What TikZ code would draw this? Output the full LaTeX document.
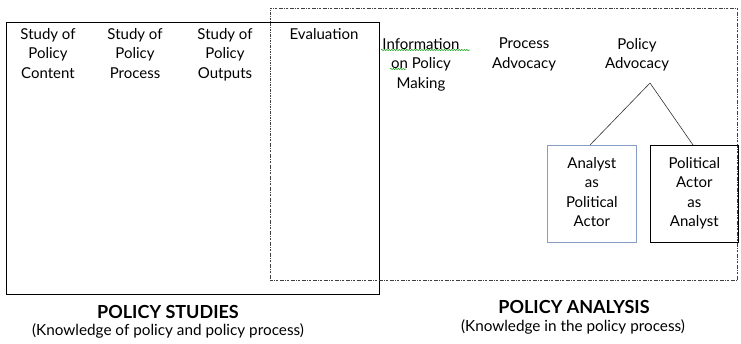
\documentclass[tikz,border=0pt]{standalone}
\usepackage{fontspec}
\setmainfont{Lato}
\usetikzlibrary{decorations.pathmorphing}
\definecolor{boxblue}{RGB}{135,158,196}
\begin{document}
\begin{tikzpicture}[x=1pt,y=-1pt,
  lbl/.style={align=center,font=\fontsize{15}{19.5}\selectfont,inner sep=0pt,anchor=north},
  head/.style={font=\fontsize{18}{21}\selectfont\bfseries,inner sep=0pt},
  sub/.style={font=\fontsize{15.3}{18}\selectfont,inner sep=0pt},
  dashbox/.style={draw=black!75,line width=0.6pt,dash pattern=on 2.5pt off 1.2pt on 0.6pt off 1.2pt},
  solidbox/.style={draw=black,line width=0.7pt},
  squig/.style={draw=green!60!black,line width=0.5pt,decorate,decoration={snake,amplitude=0.6pt,segment length=2.5pt}}]
\useasboundingbox (0,0) rectangle (741,343);
% boxes
\node[solidbox,minimum width=373pt,minimum height=272pt,inner sep=0pt,anchor=north west] (ps) at (6,22) {};
\node[dashbox,minimum width=467pt,minimum height=272pt,inner sep=0pt,anchor=north west] (pa) at (270,8) {};
% top labels
\node[lbl] (c1) at (48,28) {Study of\\Policy\\Content};
\node[lbl] (c2) at (135,28) {Study of\\Policy\\Process};
\node[lbl] (c3) at (225,28) {Study of\\Policy\\Outputs};
\node[lbl] (c4) at (324,28) {Evaluation};
\node[lbl] (c5) at (421,38) {Information\\on Policy\\Making};
\node[lbl] (c6) at (524,38) {Process\\Advocacy};
\node[lbl] (c7) at (637,38) {Policy\\Advocacy};
% spell-check marks
\coordinate (s1a) at (381,50); \coordinate (s1b) at (470,50);
\coordinate (s2a) at (390,69); \coordinate (s2b) at (406,69);
\draw[squig] (s1a) -- (s1b);
\draw[squig] (s2a) -- (s2b);
% sub boxes
\node[draw=boxblue,line width=0.7pt,minimum width=89pt,minimum height=97pt,inner sep=0pt,anchor=north west] (an) at (547,145) {};
\node[lbl] at ([yshift=-12pt]an.north) {Analyst\\as\\Political\\Actor};
\node[solidbox,minimum width=88pt,minimum height=97pt,inner sep=0pt,anchor=north west] (po) at (650,145) {};
\node[lbl] at ([yshift=-12pt]po.north) {Political\\Actor\\as\\Analyst};
% tree lines
\coordinate (apex) at (650,83);
\draw[black!80,line width=0.6pt] (apex) -- (590,145);
\draw[black!80,line width=0.6pt] (apex) -- (693,145);
% bottom captions
\node[head] (h1) at (168,312) {POLICY STUDIES};
\node[sub] (t1) at (168,331) {(Knowledge of policy and policy process)};
\node[head] (h2) at (574,307) {POLICY ANALYSIS};
\node[sub] (t2) at (573,327) {(Knowledge in the policy process)};
\end{tikzpicture}
\end{document}
